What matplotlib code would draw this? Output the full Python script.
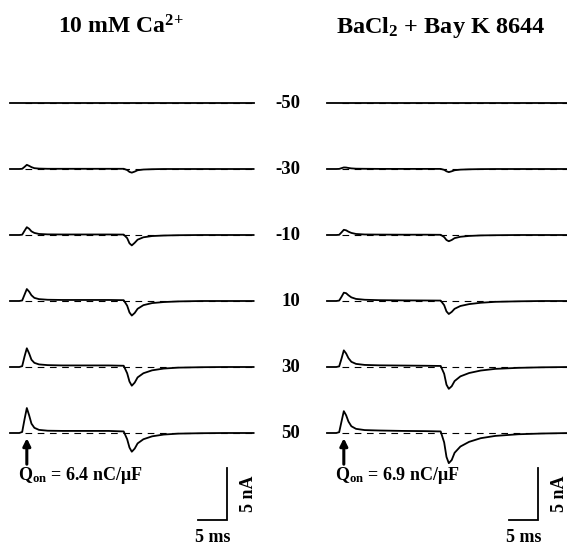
import matplotlib
matplotlib.use("Agg")
import matplotlib.pyplot as plt

plt.rcParams["font.family"] = ["Liberation Serif", "DejaVu Serif"]
plt.rcParams["font.weight"] = "bold"
plt.rcParams["mathtext.fontset"] = "custom"
plt.rcParams["mathtext.rm"] = "Liberation Serif:bold"
plt.rcParams["mathtext.it"] = "Liberation Serif:bold"
plt.rcParams["mathtext.bf"] = "Liberation Serif:bold"

# ============================================================
# data: gating currents (nA)
# ============================================================
voltages = ["-50", "-30", "-10", "10", "30", "50"]
titles = ["10 mM Ca$^{2\\!+}$", "BaCl$_2$ + Bay K 8644"]
q_on = ["Q$_{\\mathrm{on}}$ = 6.4 nC/μF", "Q$_{\\mathrm{on}}$ = 6.9 nC/μF"]

t_ms = [0, 1.6, 2.1, 2.5, 2.9, 3.3, 3.7, 4.2, 5.0, 6.5, 9, 13, 17, 19.6,
        20.2, 20.6, 21.0, 21.5, 22.0, 23.0, 24.5, 26.5, 29, 33, 37, 42]

ca_m50 = [0] * 26
ca_m30 = [0, 0, 0.02, 0.2, 0.4, 0.3, 0.18, 0.08, 0.04, 0.02, 0.02, 0.02, 0.02, 0.02,
          -0.1, -0.28, -0.35, -0.25, -0.12, -0.05, -0.02, 0, 0, 0, 0, 0]
ca_m10 = [0, 0, 0.03, 0.4, 0.75, 0.6, 0.35, 0.2, 0.1, 0.06, 0.05, 0.05, 0.05, 0.04,
          -0.3, -0.8, -1.0, -0.75, -0.45, -0.22, -0.1, -0.05, -0.02, 0, 0, 0]
ca_p10 = [0, 0, 0.05, 0.6, 1.15, 0.9, 0.55, 0.3, 0.18, 0.12, 0.1, 0.1, 0.1, 0.08,
          -0.45, -1.1, -1.4, -1.15, -0.75, -0.4, -0.2, -0.1, -0.04, 0, 0, 0]
ca_p30 = [0, 0, 0.08, 1.0, 1.8, 1.3, 0.7, 0.4, 0.25, 0.18, 0.15, 0.15, 0.15, 0.12,
          -0.6, -1.4, -1.8, -1.5, -1.0, -0.6, -0.32, -0.15, -0.06, -0.02, 0, 0]
ca_p50 = [0, 0, 0.1, 1.3, 2.4, 1.7, 0.9, 0.5, 0.3, 0.22, 0.2, 0.2, 0.2, 0.15,
          -0.6, -1.4, -1.8, -1.5, -1.0, -0.6, -0.32, -0.15, -0.06, -0.02, 0, 0]

ba_m50 = [0] * 26
ba_m30 = [0, 0, 0.01, 0.08, 0.15, 0.14, 0.1, 0.06, 0.03, 0.02, 0.01, 0.01, 0.01, 0.01,
          -0.08, -0.22, -0.3, -0.22, -0.12, -0.06, -0.03, -0.01, 0, 0, 0, 0]
ba_m10 = [0, 0, 0.02, 0.25, 0.5, 0.45, 0.32, 0.2, 0.1, 0.05, 0.04, 0.03, 0.03, 0.02,
          -0.2, -0.48, -0.6, -0.48, -0.3, -0.17, -0.09, -0.04, -0.02, 0, 0, 0]
ba_p10 = [0, 0, 0.04, 0.4, 0.8, 0.75, 0.55, 0.35, 0.2, 0.12, 0.08, 0.06, 0.05, 0.04,
          -0.4, -1.0, -1.25, -1.05, -0.75, -0.48, -0.3, -0.17, -0.08, -0.03, 0, 0]
ba_p30 = [0, 0, 0.06, 0.8, 1.6, 1.3, 0.85, 0.5, 0.3, 0.2, 0.16, 0.14, 0.12, 0.1,
          -0.65, -1.7, -2.1, -1.85, -1.35, -0.9, -0.58, -0.34, -0.18, -0.08, -0.03, 0]
ba_p50 = [0, 0, 0.08, 1.1, 2.1, 1.7, 1.1, 0.65, 0.4, 0.28, 0.24, 0.2, 0.18, 0.15,
          -0.9, -2.3, -2.9, -2.6, -1.9, -1.3, -0.85, -0.5, -0.28, -0.12, -0.05, 0]

panels = [
    [ca_m50, ca_m30, ca_m10, ca_p10, ca_p30, ca_p50],
    [ba_m50, ba_m30, ba_m10, ba_p10, ba_p30, ba_p50],
]

# ============================================================
# layout (pixel geometry of the 567x551 figure)
# ============================================================
W, H = 567, 551
px_per_ms = 5.8
px_per_na = 10.4
row_px = 66.0
first_row_px = 103
trace_start_px = [10, 327]
axes_span_px = [(0, 290), (290, 567)]
row_step = row_px / px_per_na

fig = plt.figure(figsize=(W / 100, H / 100), dpi=100)

for p, traces in enumerate(panels):
    x0, x1 = axes_span_px[p]
    ax = fig.add_axes([x0 / W, 0, (x1 - x0) / W, 1])
    ax.set_xlim((x0 - trace_start_px[p]) / px_per_ms, (x1 - trace_start_px[p]) / px_per_ms)
    ax.set_ylim(-(H - first_row_px) / px_per_na, first_row_px / px_per_na)
    ax.axis("off")

    for k, tr in enumerate(traces):
        off = -k * row_step
        ax.plot([2.5, t_ms[-1]], [off, off], color="black", lw=0.8,
                dashes=(6, 5), zorder=1)
        ax.plot(t_ms, [v + off for v in tr], color="black", lw=1.3,
                solid_joinstyle="round", zorder=2)
        if p == 0:
            ax.text((300 - trace_start_px[0]) / px_per_ms, off, voltages[k],
                    ha="right", va="center", fontsize=13.5, fontweight="bold")

    # arrow under the ON transient + charge label
    base = -(len(traces) - 1) * row_step
    ax.annotate("", xy=(2.9, base - 0.5), xytext=(2.9, base - 3.0),
                arrowprops=dict(arrowstyle="-|>", color="black", lw=2.2,
                                mutation_scale=11, shrinkA=0, shrinkB=0))
    ax.text(1.3, base - 4.1, q_on[p], ha="left", va="center", fontsize=13)

    # scale bars: 5 ms, 5 nA
    bar_x1 = 37.4 if p == 0 else 36.4
    bar_y0 = -(520 - first_row_px) / px_per_na
    ax.plot([bar_x1 - 5, bar_x1, bar_x1], [bar_y0, bar_y0, bar_y0 + 5],
            color="black", lw=1.3, solid_joinstyle="miter")
    ax.text(bar_x1 + 3.7, bar_y0 + 2.5, "5 nA", rotation=90, ha="center",
            va="center", fontsize=13)
    ax.text(bar_x1 - 2.5, bar_y0 - 1.7, "5 ms", ha="center", va="center",
            fontsize=13)

fig.text(121 / W, 1 - 27 / H, titles[0], ha="center", va="center", fontsize=17)
fig.text(441 / W, 1 - 27 / H, titles[1], ha="center", va="center", fontsize=17.5)

plt.savefig("out.png", dpi=100)
plt.close()
